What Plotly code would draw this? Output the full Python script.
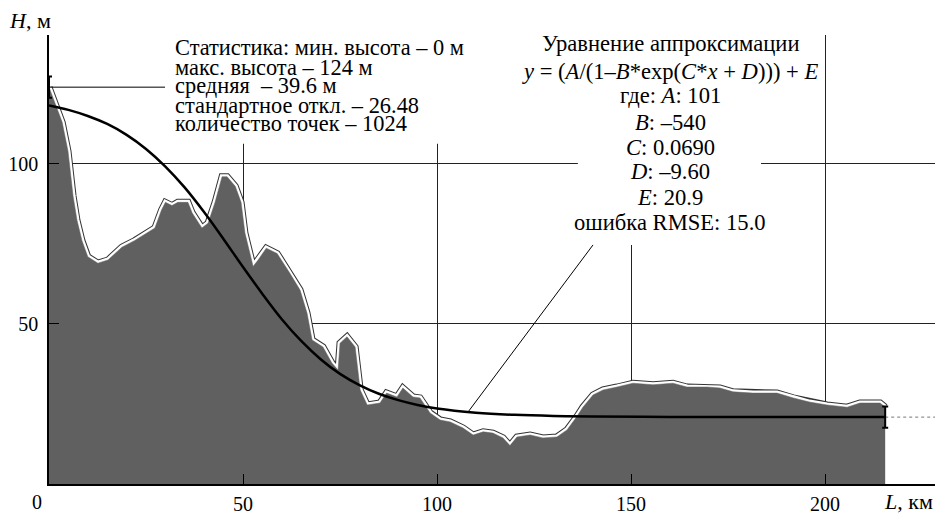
import plotly.graph_objects as go

# ---- data ----
dist_km = [0, 1.5, 3.4, 4.9, 5.4, 6.2, 7.2, 8.5, 10, 12.6, 15.2, 18.8, 22, 25.5, 27.3, 29, 30,
           31.7, 33.2, 35.8, 36.9, 39.4, 41, 42.8, 44.6, 45.9, 48, 49.5, 50.5, 52.6, 53.9, 56,
           58.8, 62, 64.7, 66.5, 67.8, 70.6, 72.9, 74.5, 75, 76.8, 78.9, 80.2, 82, 85.3, 87,
           89.7, 91.2, 93.8, 95.6, 98.2, 100.8, 103.4, 106.7, 109.3, 111.9, 114.4, 117, 118.8,
           120.6, 124, 127.3, 130.9, 133.5, 136, 137.6, 140.2, 142.8, 146.4, 150.5, 155.7,
           160.8, 164.4, 169.6, 172.9, 176.3, 181.4, 187.6, 191.8, 196, 200.5, 205.7, 209,
           214.2, 215.5]
height_m = [124, 119, 113, 104, 98, 90, 82.5, 76, 71, 69, 70, 74, 76, 78.5, 80, 85.6, 88,
            87, 88, 88, 84.7, 80, 81.5, 88, 96, 96, 93, 88, 78.4, 68, 70, 73.7,
            72, 66, 60.6, 53.4, 45, 42.8, 37.8, 35.6, 44, 46, 42.8, 29.4, 24.7, 25.3, 28.4,
            27.2, 30, 27.2, 26.9, 22.2, 20, 19.4, 17.5, 15.3, 16.3, 15.9, 14.4, 12,
            14.7, 15.3, 14.4, 14.7, 16.9, 21, 24, 27.8, 29.4, 30.3, 31.5, 31,
            31.5, 30.3, 30.3, 30, 28.8, 28.4, 28.4, 26.9, 25.6, 24.7, 24, 25.3,
            25.3, 24]

fit_x = [0, 5, 10, 15, 20, 25, 30, 35, 40, 45, 50, 55, 60, 65, 70, 75, 80, 85, 90, 95,
         100, 110, 120, 130, 140, 160, 180, 215.5]
fit_y = [118.3, 116.9, 115.0, 112.5, 109.1, 104.7, 99.2, 92.6, 84.9, 76.5, 67.8, 59.4, 51.5,
         44.7, 39.0, 34.4, 30.9, 28.2, 26.2, 24.7, 23.6, 22.3, 21.6, 21.25, 21.1, 20.95, 20.9, 20.9]

x_ticks = [50, 100, 150, 200]
y_ticks = [50, 100]
H_MAX = 124
E_VAL = 20.9
X_MAX = 230.4
Y_MAX = 140.3

stats_lines = ["Статистика: мин. высота – 0 м",
               "макс. высота – 124 м",
               "средняя \u00a0– 39.6 м",
               "стандартное откл. – 26.48",
               "количество точек – 1024"]
eq_lines = ["Уравнение аппроксимации",
            "<i>y</i> = (<i>A</i>/(1–<i>B</i>*exp(<i>C</i>*<i>x</i> + <i>D</i>))) + <i>E</i>",
            "где: <i>A</i>: 101",
            "<i>B</i>: –540",
            "<i>C</i>: 0.0690",
            "<i>D</i>: –9.60",
            "<i>E</i>: 20.9",
            "ошибка RMSE: 15.0"]

FONT = "Liberation Serif, Times New Roman, serif"
FILL = "#606060"

fig = go.Figure()
# edge outline (partly covered by the fill)
fig.add_trace(go.Scatter(x=dist_km, y=height_m, mode="lines",
                         line=dict(color="#333333", width=7), hoverinfo="skip"))
fig.add_trace(go.Scatter(x=dist_km, y=height_m, mode="lines",
                         line=dict(color="white", width=5), hoverinfo="skip"))
fig.add_trace(go.Scatter(x=dist_km, y=height_m, mode="lines", fill="tozeroy",
                         fillcolor=FILL, line=dict(color=FILL, width=0.5)))
# fit curve
fig.add_trace(go.Scatter(x=fit_x, y=fit_y, mode="lines", line_shape="spline",
                         line=dict(color="black", width=2.5)))
# dotted extension
fig.add_trace(go.Scatter(x=[dist_km[-1], X_MAX], y=[E_VAL, E_VAL], mode="lines",
                         line=dict(color="#777777", width=1, dash="dot")))
# end brackets
fig.add_trace(go.Scatter(x=[dist_km[0], dist_km[-1]], y=[H_MAX, E_VAL], mode="markers",
                         marker=dict(size=1, color="black"),
                         error_y=dict(type="constant", value=3.3, width=3, thickness=2, color="black"),
                         cliponaxis=False))

# grid masks behind text (between gridlines and traces)
masks = [(31.5, 108.5, 106.3, Y_MAX), (121.0, 197.5, 101.5, Y_MAX), (136.3, 183.5, 74.7, 101.5)]
for x0, x1, y0, y1 in masks:
    fig.add_shape(type="rect", xref="x", yref="y", x0=x0, x1=x1, y0=y0, y1=y1,
                  fillcolor="white", line_width=0, layer="between")

# leader lines
fig.add_shape(type="line", xref="x", yref="y", x0=0, x1=29.9, y0=H_MAX, y1=H_MAX,
              line=dict(color="black", width=1))
fig.add_shape(type="line", xref="x", yref="y", x0=140.2, y0=74.7, x1=108, y1=22.5,
              line=dict(color="black", width=1))

stats_y = [136.25, 130.3, 124.4, 118.4, 112.5]
for t, y in zip(stats_lines, stats_y):
    fig.add_annotation(x=31.9, y=y, xref="x", yref="y", text=t, showarrow=False,
                       xanchor="left", yanchor="middle", font=dict(family=FONT, size=22.4, color="black"))
eq_y = [137.5, 128.75, 121.25, 113.1, 105.3, 97.5, 89.4, 81.6]
for t, y in zip(eq_lines, eq_y):
    fig.add_annotation(x=160.05, y=y, xref="x", yref="y", text=t, showarrow=False,
                       xanchor="center", yanchor="middle", font=dict(family=FONT, size=22.6, color="black"))

fig.add_annotation(x=-0.047, y=1.0334, xref="paper", yref="paper", text="<i>H</i>, м",
                   showarrow=False, xanchor="left", yanchor="middle", font=dict(family=FONT, size=22, color="black"))
fig.add_annotation(x=0.9318, y=-0.040, xref="paper", yref="paper", text="<i>L</i>, км",
                   showarrow=False, xanchor="left", yanchor="middle", font=dict(family=FONT, size=22, color="black"))
fig.add_annotation(x=-0.0134, y=-0.040, xref="paper", yref="paper", text="0",
                   showarrow=False, xanchor="center", yanchor="middle", font=dict(family=FONT, size=20, color="black"))

# the page body adds an 8px offset, so the figure is 8px smaller than the window
fig.update_layout(
    width=935, height=506,
    margin=dict(l=41, r=0, t=27, b=30),
    paper_bgcolor="white", plot_bgcolor="white",
    showlegend=False,
    font=dict(family=FONT, size=20, color="black"),
)
fig.update_xaxes(range=[0, X_MAX], tickvals=x_ticks, ticks="inside", ticklen=10, tickcolor="black",
                 showline=True, linecolor="black", linewidth=1.5, showgrid=True, gridcolor="#222222",
                 gridwidth=1, zeroline=False, tickfont=dict(family=FONT, size=20, color="black"),
                 ticklabelstandoff=1, automargin=False)
fig.update_yaxes(range=[0, Y_MAX], tickvals=y_ticks, ticks="inside", ticklen=10, tickcolor="black",
                 showline=True, linecolor="black", linewidth=1.5, showgrid=True, gridcolor="#222222",
                 gridwidth=1, zeroline=False, tickfont=dict(family=FONT, size=20, color="black"),
                 ticklabelstandoff=5, automargin=False)

fig.write_html("out.html")
